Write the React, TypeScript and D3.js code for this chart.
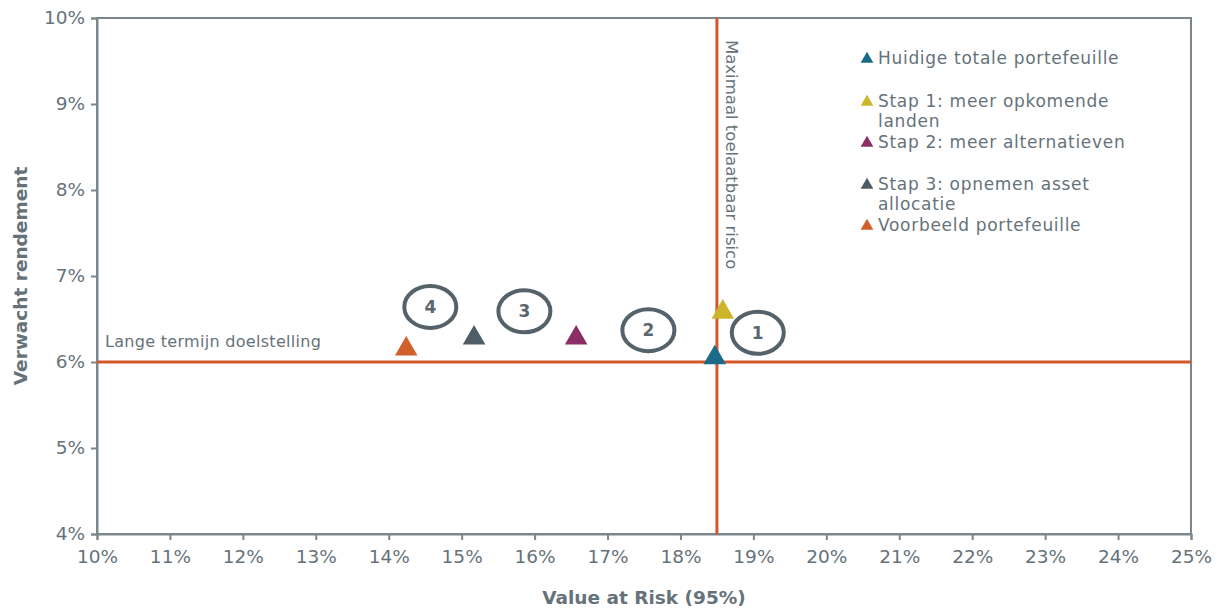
import React, { useEffect, useRef } from "react";
import * as d3 from "d3";

// x = Value at Risk (%), y = verwacht rendement (%)
const seriesNames = [
  "Huidige totale portefeuille",
  "Stap 1: meer opkomende landen",
  "Stap 2: meer alternatieven",
  "Stap 3: opnemen asset allocatie",
  "Voorbeeld portefeuille",
];
const seriesColors = ["#1c6a8a", "#cdb52b", "#8a2e63", "#4e5d66", "#d2602b"];
const varValues = [18.47, 18.58, 16.57, 15.17, 14.24];
const returnValues = [6.05, 6.58, 6.28, 6.28, 6.15];

// legend lines (wrapped as in the original)
const legendLines = [
  ["Huidige totale portefeuille"],
  ["Stap 1: meer opkomende", "landen"],
  ["Stap 2: meer alternatieven"],
  ["Stap 3: opnemen asset", "allocatie"],
  ["Voorbeeld portefeuille"],
];

// numbered step markers
const stepLabels = ["1", "2", "3", "4"];
const stepX = [19.06, 17.56, 15.86, 14.57];
const stepY = [6.34, 6.37, 6.59, 6.64];

const xTicks = d3.range(10, 26, 1);
const yTicks = d3.range(4, 11, 1);
const targetReturn = 6;
const maxRisk = 18.5;

export default function App() {
  const ref = useRef<SVGSVGElement>(null);

  useEffect(() => {
    const node = ref.current;
    if (!node) return;
    const w = 1224;
    const h = 608;
    const m = { t: 18, r: 33, b: 74, l: 97 };
    const font = "'DejaVu Sans', Verdana, sans-serif";
    const textCol = "#66727a";
    const axisCol = "#7b868d";
    const lineCol = "#d4572a";

    const svg = d3.select(node);
    svg.attr("viewBox", `0 0 ${w} ${h}`).selectAll("*").remove();

    const x = d3.scaleLinear().domain([10, 25]).range([m.l, w - m.r]);
    const y = d3.scaleLinear().domain([4, 10]).range([h - m.b, m.t]);

    const g = svg.append("g").attr("font-family", font);

    // frame
    g.append("rect")
      .attr("x", x(10))
      .attr("y", y(10))
      .attr("width", x(25) - x(10))
      .attr("height", y(4) - y(10))
      .attr("fill", "none")
      .attr("stroke", axisCol)
      .attr("stroke-width", 2);

    // axes
    const xAxis = g.append("g")
      .attr("transform", `translate(0,${y(4)})`)
      .call(d3.axisBottom(x).tickValues(xTicks).tickSize(6).tickPadding(10).tickFormat(d => `${d}%`));
    const yAxis = g.append("g")
      .attr("transform", `translate(${x(10)},0)`)
      .call(d3.axisLeft(y).tickValues(yTicks).tickSize(6).tickPadding(6).tickFormat(d => `${d}%`));
    [xAxis, yAxis].forEach(a => {
      a.select(".domain").attr("stroke", axisCol).attr("stroke-width", 2);
      a.selectAll(".tick line").attr("stroke", axisCol).attr("stroke-width", 2);
      a.selectAll(".tick text")
        .attr("fill", textCol)
        .attr("font-size", 18.5)
        .attr("font-family", font);
    });

    // reference lines
    g.append("line")
      .attr("x1", x(10)).attr("x2", x(25))
      .attr("y1", y(targetReturn)).attr("y2", y(targetReturn))
      .attr("stroke", lineCol).attr("stroke-width", 3);
    g.append("line")
      .attr("x1", x(maxRisk)).attr("x2", x(maxRisk))
      .attr("y1", y(10)).attr("y2", y(4))
      .attr("stroke", lineCol).attr("stroke-width", 3);

    g.append("text")
      .attr("x", x(10) + 8)
      .attr("y", y(targetReturn) - 15)
      .attr("font-size", 16)
      .attr("letter-spacing", 0.3)
      .attr("fill", textCol)
      .text("Lange termijn doelstelling");

    g.append("text")
      .attr("transform", `translate(${x(maxRisk) + 9},${y(10) + 22}) rotate(90)`)
      .attr("font-size", 16.5)
      .attr("fill", textCol)
      .text("Maximaal toelaatbaar risico");

    // step ellipses
    const steps = g.selectAll("g.step")
      .data(stepLabels)
      .enter()
      .append("g")
      .attr("class", "step")
      .attr("transform", (d, i) => `translate(${x(stepX[i])},${y(stepY[i])})`);
    steps.append("ellipse")
      .attr("rx", 26).attr("ry", 21)
      .attr("fill", "none")
      .attr("stroke", "#55626a")
      .attr("stroke-width", 4);
    steps.append("text")
      .attr("text-anchor", "middle")
      .attr("dy", "0.36em")
      .attr("font-size", 17)
      .attr("font-weight", "bold")
      .attr("fill", "#5b676f")
      .text(d => d);

    // triangles
    const tri = d3.symbol().type(d3.symbolTriangle).size(220);
    g.selectAll("path.pt")
      .data(seriesNames)
      .enter()
      .append("path")
      .attr("class", "pt")
      .attr("d", tri)
      .attr("transform", (d, i) => `translate(${x(varValues[i])},${y(returnValues[i])})`)
      .attr("fill", (d, i) => seriesColors[i]);

    // legend
    const legendY = [58, 101, 142, 184, 225];
    const leg = g.selectAll("g.leg")
      .data(seriesNames)
      .enter()
      .append("g")
      .attr("class", "leg")
      .attr("transform", (d, i) => `translate(867,${legendY[i]})`);
    leg.append("path")
      .attr("d", d3.symbol().type(d3.symbolTriangle).size(70))
      .attr("transform", "translate(0,1)")
      .attr("fill", (d, i) => seriesColors[i]);
    leg.append("text")
      .attr("x", 11)
      .attr("font-size", 17)
      .attr("letter-spacing", 0.7)
      .attr("fill", textCol)
      .each(function (d, i) {
        d3.select(this)
          .selectAll("tspan")
          .data(legendLines[i])
          .enter()
          .append("tspan")
          .attr("x", 11)
          .attr("dy", (t, j) => (j === 0 ? "0.35em" : "20"))
          .text(t => t);
      });

    // axis titles
    g.append("text")
      .attr("x", (x(10) + x(25)) / 2)
      .attr("y", h - 4)
      .attr("text-anchor", "middle")
      .attr("font-size", 18.5)
      .attr("font-weight", "bold")
      .attr("fill", textCol)
      .text("Value at Risk (95%)");
    g.append("text")
      .attr("transform", `translate(27,${(y(4) + y(10)) / 2}) rotate(-90)`)
      .attr("text-anchor", "middle")
      .attr("font-size", 18.5)
      .attr("font-weight", "bold")
      .attr("fill", textCol)
      .text("Verwacht rendement");
  }, []);

  return (
    <svg
      ref={ref}
      width={1224}
      height={608}
      style={{ position: "absolute", left: 0, top: 0, background: "#fff" }}
    />
  );
}
